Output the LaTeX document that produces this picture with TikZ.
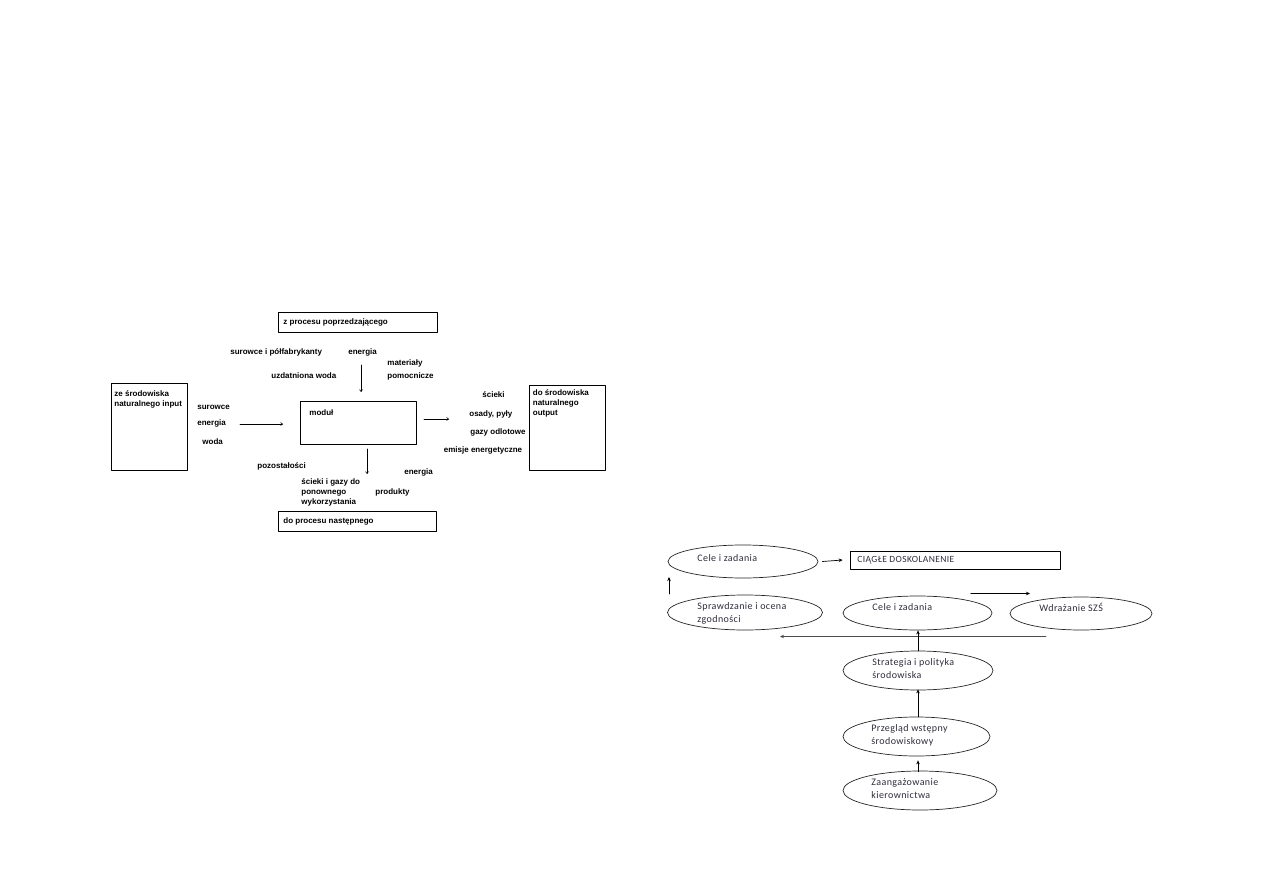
\documentclass[tikz,border=0pt]{standalone}
\usepackage{fontspec}
\setmainfont{Liberation Sans}
\newfontfamily\calfont[LetterSpace=4]{Carlito}
\usetikzlibrary{arrows.meta,shapes.geometric}

\definecolor{txtgray}{RGB}{45,45,60}

\begin{document}
\begin{tikzpicture}[x=1pt, y=-1pt, line width=0.8pt, line cap=round, line join=round,
  box/.style={draw, line width=0.9pt, inner sep=0pt},
  lbl/.style={anchor=west, inner sep=0pt, font=\fontsize{8}{10}\selectfont\bfseries, align=left},
  oval/.style={draw, ellipse, line width=0.7pt, draw=black!85, inner sep=0pt},
  otxt/.style={anchor=west, inner sep=0pt, text=txtgray, font=\calfont\fontsize{10}{13}\selectfont, align=left},
  arr/.style={-{Straight Barb[length=2pt,width=3pt]}, line width=0.6pt},
  arrb/.style={-{Stealth[length=4pt,width=3.5pt]}, line width=0.9pt}]

  %% ════ 模块图（上左）：框 ════
  \node[box, minimum width=159pt, minimum height=20pt] (zproc) at (357.5,322.0) {};
  \node[box, minimum width=76pt,  minimum height=87pt] (inbox) at (149.0,426.5) {};
  \node[box, minimum width=116pt, minimum height=43pt] (modul) at (358.0,422.5) {};
  \node[box, minimum width=76pt,  minimum height=85pt] (outbox) at (567.0,427.5) {};
  \node[box, minimum width=158pt, minimum height=20pt] (nast) at (357.0,521.0) {};

  %% ════ 框内文字 ════
  \node[lbl] (zprocT) at (283.0,322.0) {z procesu poprzedzającego};
  \node[lbl] (inboxT) at (114.0,399.5) {ze środowiska\\naturalnego input};
  \node[lbl] (modulT) at (309.0,413.0) {moduł};
  \node[lbl] (outboxT) at (532.5,403.5) {do środowiska\\naturalnego\\output};
  \node[lbl] (nastT) at (283.0,521.0) {do procesu następnego};

  %% ════ 流入 / 流出标签 ════
  \node[lbl] (surpol) at (230.0,352.0) {surowce i półfabrykanty};
  \node[lbl] (energiaG) at (348.0,352.0) {energia};
  \node[lbl] (woda1) at (271.0,376.0) {uzdatniona woda};
  \node[lbl, font=\fontsize{8}{13}\selectfont\bfseries] (matpom) at (387.0,370.0) {materiały\\pomocnicze};
  \node[lbl] (surow) at (197.0,407.0) {surowce};
  \node[lbl] (energiaL) at (197.0,423.0) {energia};
  \node[lbl] (woda2) at (202.0,442.0) {woda};
  \node[lbl] (scieki) at (482.0,394.5) {ścieki};
  \node[lbl] (osady) at (469.0,414.0) {osady, pyły};
  \node[lbl] (gazy) at (470.0,432.0) {gazy odlotowe};
  \node[lbl] (emisje) at (443.5,450.0) {emisje energetyczne};
  \node[lbl] (pozost) at (257.0,466.5) {pozostałości};
  \node[lbl] (sciekiG) at (301.0,492.5) {ścieki i gazy do\\ponownego\\wykorzystania};
  \node[lbl] (energiaD) at (404.0,472.0) {energia};
  \node[lbl] (produkty) at (375.0,492.0) {produkty};

  %% ════ 箭头（自由端用命名坐标）════
  \coordinate (dnA) at (361.0,365.0);  \coordinate (dnB) at (361.0,392.0);
  \coordinate (inA) at (240.0,424.0);  \coordinate (inB) at (283.0,424.0);
  \coordinate (outA) at (424.0,419.0); \coordinate (outB) at (449.0,419.0);
  \coordinate (dwA) at (367.0,449.0);  \coordinate (dwB) at (367.0,474.0);
  \draw[arr] (dnA) -- (dnB);
  \draw[arr] (inA) -- (inB);
  \draw[arr] (outA) -- (outB);
  \draw[arr] (dwA) -- (dwB);

  %% ════ 环境管理体系图（下右）：椭圆 ════
  \node[oval, minimum width=150pt, minimum height=33pt] (celeA) at (743.0,561.5) {};
  \node[box, line width=0.7pt, minimum width=210pt, minimum height=18pt] (ciagle) at (955.0,560.0) {};
  \node[oval, minimum width=155pt, minimum height=35pt] (sprawdz) at (745.0,612.5) {};
  \node[oval, minimum width=149pt, minimum height=34pt] (celeB) at (917.5,613.0) {};
  \node[oval, minimum width=142pt, minimum height=33pt] (wdraz) at (1081.0,613.5) {};
  \node[oval, minimum width=150pt, minimum height=39pt] (strat) at (918.0,670.5) {};
  \node[oval, minimum width=147pt, minimum height=39pt] (przeg) at (916.5,736.5) {};
  \node[oval, minimum width=154pt, minimum height=39pt] (zaang) at (920.0,790.5) {};

  %% ════ 椭圆内文字 ════
  \node[otxt] (celeAT) at (697.0,558.5) {Cele i zadania};
  \node[otxt, font=\calfont\fontsize{9.5}{11}\selectfont] (ciagleT) at (857.0,560.5) {CIĄGŁE DOSKOLANENIE};
  \node[otxt] (sprawdzT) at (697.0,613.0) {Sprawdzanie i ocena\\zgodności};
  \node[otxt] (celeBT) at (872.0,607.0) {Cele i zadania};
  \node[otxt] (wdrazT) at (1039.0,607.5) {Wdrażanie SZŚ};
  \node[otxt] (stratT) at (872.0,669.0) {Strategia i polityka\\środowiska};
  \node[otxt] (przegT) at (871.0,735.0) {Przegląd wstępny\\środowiskowy};
  \node[otxt] (zaangT) at (871.0,789.0) {Zaangażowanie\\kierownictwa};

  %% ════ 连接箭头（竖直箭头一律 x=918）════
  \draw[arrb, line width=0.7pt] ([xshift=4pt]celeA.east) -- ([xshift=-7pt]ciagle.west);
  \coordinate (upA) at (669.0,594.0); \coordinate (upB) at (669.0,577.0);
  \draw[arrb] (upA) -- (upB);
  \coordinate (thA) at (971.0,593.5); \coordinate (thB) at (1030.0,593.5);
  \draw[arrb, line width=1.3pt] (thA) -- (thB);
  \coordinate (lgA) at (1046.0,636.5); \coordinate (lgB) at (780.0,636.5);
  \draw[arrb, line width=0.9pt, draw=black!70] (lgA) -- (lgB);
  \draw[arrb] (strat.north) -- (strat.north |- celeB.south);
  \draw[arrb] (strat.south |- przeg.north) -- ([yshift=1pt]strat.south);
  \draw[arrb] ([yshift=-1pt]strat.south |- zaang.north) -- ([yshift=-4pt]strat.south |- przeg.south);

  % 固定画布
  \pgfresetboundingbox
  \path[use as bounding box] (0,0) rectangle (1263,893);
\end{tikzpicture}
\end{document}
